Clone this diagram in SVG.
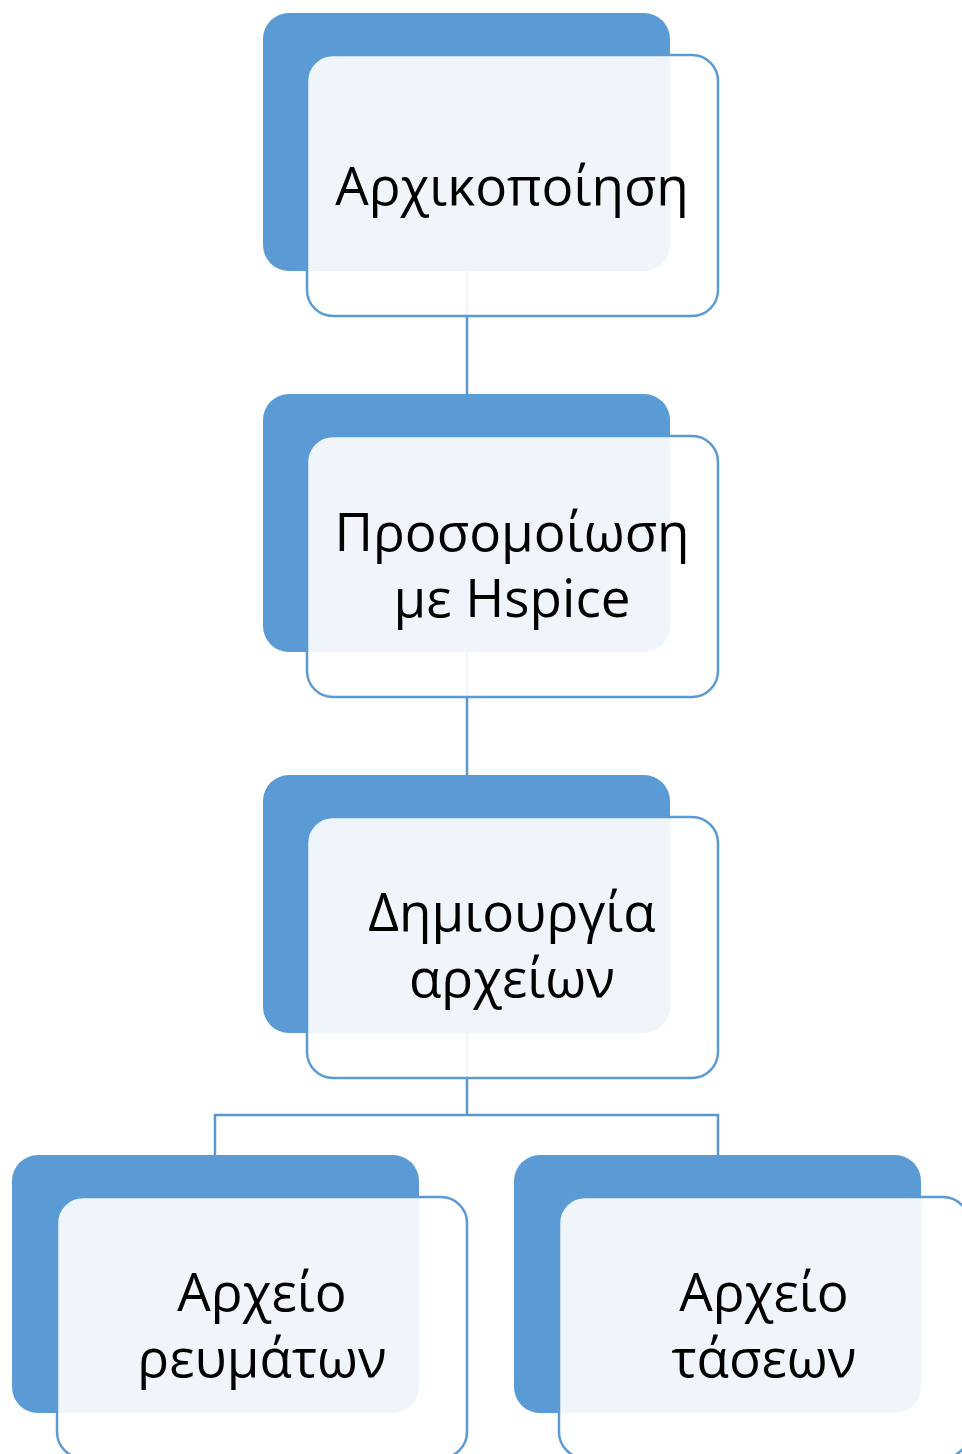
<svg xmlns="http://www.w3.org/2000/svg" width="962" height="1454" viewBox="0 0 962 1454">
<style>
.back{fill:#5B9BD5}
.front{fill:#FFFFFF;fill-opacity:0.9;stroke:#5B9BD5;stroke-width:2.5}
.conn{fill:none;stroke:#5B96CC;stroke-width:2.5}
.lbl{font-family:"Open Sans","Noto Sans",sans-serif;font-size:53px;fill:#000;text-anchor:middle}
</style>
<rect width="962" height="1454" fill="#FFFFFF"/>
<g id="connectors">
<path class="conn" d="M467 271V395"/>
<path class="conn" d="M467 651V776"/>
<path class="conn" d="M467 1032V1115M215 1155V1115H718V1155"/>
</g>
<g id="node1">
<rect class="back" x="263" y="13" width="407" height="258" rx="26"/>
<rect class="front" x="307" y="55" width="411" height="261" rx="26"/>
<text class="lbl" x="512" y="205">Αρχικοποίηση</text>
</g>
<g id="node2">
<rect class="back" x="263" y="394" width="407" height="258" rx="26"/>
<rect class="front" x="307" y="436" width="411" height="261" rx="26"/>
<text class="lbl" x="512" y="551">Προσομοίωση</text>
<text class="lbl" x="512" y="617">με Hspice</text>
</g>
<g id="node3">
<rect class="back" x="263" y="775" width="407" height="258" rx="26"/>
<rect class="front" x="307" y="817" width="411" height="261" rx="26"/>
<text class="lbl" x="512" y="931">Δημιουργία</text>
<text class="lbl" x="512" y="997">αρχείων</text>
</g>
<g id="node4">
<rect class="back" x="12" y="1155" width="407" height="258" rx="26"/>
<rect class="front" x="57" y="1197" width="410" height="261" rx="26"/>
<text class="lbl" x="262" y="1311">Αρχείο</text>
<text class="lbl" x="262" y="1377">ρευμάτων</text>
</g>
<g id="node5">
<rect class="back" x="514" y="1155" width="407" height="258" rx="26"/>
<rect class="front" x="559" y="1197" width="410" height="261" rx="26"/>
<text class="lbl" x="764" y="1311">Αρχείο</text>
<text class="lbl" x="764" y="1377">τάσεων</text>
</g>
</svg>
